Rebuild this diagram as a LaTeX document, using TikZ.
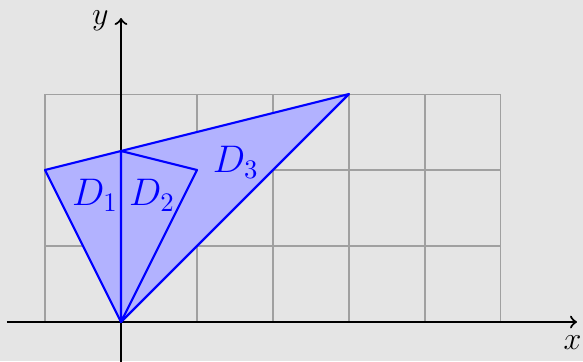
\documentclass[tikz,border=0pt]{standalone}
\usetikzlibrary{calc}
\definecolor{bg}{HTML}{E5E5E5}
\definecolor{gridgray}{HTML}{A0A0A0}
\tikzset{
  region/.style={blue,thick,fill=blue!30,line join=round},
  axis/.style={thick,->},
  lab/.style={blue,font=\Large}
}
\begin{document}
\begin{tikzpicture}
  \fill[bg] (-1.592,-0.513) rectangle (6.079,4.237);
  \useasboundingbox (-1.592,-0.513) rectangle (6.079,4.237);
  \draw[gridgray,thin] (-1,0) grid (5,3);
  \coordinate (O) at (0,0); \coordinate (A) at (-1,2); \coordinate (B) at (0,2.25);
  \coordinate (C) at (1,2); \coordinate (E) at (3,3);
  \coordinate (xs) at (-1.5,0); \coordinate (xe) at (6,0);
  \coordinate (ys) at (0,-0.55); \coordinate (ye) at (0,4);
  \draw[axis] (xs)--(xe);
  \draw[axis] (ys)--(ye);
  \node[font=\large] (xl) at (5.94,-0.27) {$x$};
  \node[font=\large] (yl) at (-0.27,3.97) {$y$};
  \filldraw[region] (O)--(A)--(E)--cycle;
  \draw[region,fill=none] (O)--(B)--(C)--cycle;
  \node[lab] (d1) at (-0.34,1.67) {$D_1$};
  \node[lab] (d2) at (0.41,1.67) {$D_2$};
  \node[lab] (d3) at (1.51,2.1) {$D_3$};
\end{tikzpicture}
\end{document}
